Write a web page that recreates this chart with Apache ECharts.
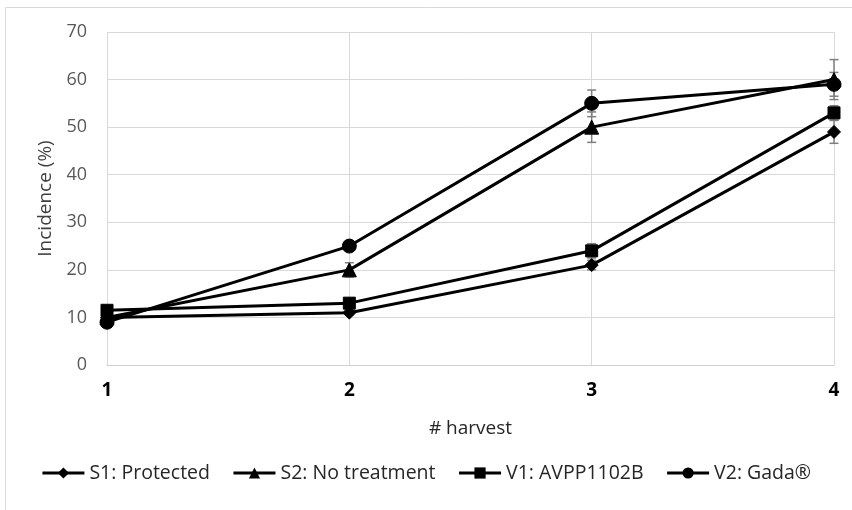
<!DOCTYPE html>
<html>
<head>
<meta charset="utf-8">
<script src="https://cdn.jsdelivr.net/npm/echarts@6/dist/echarts.min.js"></script>
<style>html,body{margin:0;padding:0;background:#fff;}#c{width:852px;height:510px;}</style>
</head>
<body>
<div id="c"></div>
<script>
const categories = ['1', '2', '3', '4'];
const seriesNames = ['S1: Protected', 'S2: No treatment', 'V1: AVPP1102B', 'V2: Gada®'];
const s1Values = [10, 11, 21, 49];
const s2Values = [10, 20, 50, 60];
const v1Values = [11.5, 13, 24, 53];
const v2Values = [9, 25, 55, 59];
const s1Errors = [0.5, 0.5, 1.0, 2.4];
const s2Errors = [0.5, 1.5, 3.2, 4.2];
const v1Errors = [0.5, 0.8, 1.5, 1.5];
const v2Errors = [0.5, 1.0, 2.8, 2.5];
const yTicks = { min: 0, max: 70, interval: 10 };

const values = [s1Values, s2Values, v1Values, v2Values];
const errors = [s1Errors, s2Errors, v1Errors, v2Errors];
const symbols = ['diamond', 'triangle', 'rect', 'circle'];
const symbolSizes = [13, 14, 12, 14];
const FONT = '"Open Sans", sans-serif';

const chart = echarts.init(document.getElementById('c'), null, { renderer: 'canvas' });

const series = [];
values.forEach((vals, i) => {
  series.push({
    type: 'custom',
    name: seriesNames[i] + ' err',
    z: 1,
    silent: true,
    data: vals.map((v, k) => [k, v - errors[i][k], v + errors[i][k]]),
    renderItem: function (params, api) {
      const lo = api.coord([api.value(0), api.value(1)]);
      const hi = api.coord([api.value(0), api.value(2)]);
      const hw = 4.5;
      const st = { stroke: '#7f7f7f', lineWidth: 1.5 };
      return {
        type: 'group',
        children: [
          { type: 'line', shape: { x1: lo[0], y1: lo[1], x2: hi[0], y2: hi[1] }, style: st },
          { type: 'line', shape: { x1: lo[0] - hw, y1: lo[1], x2: lo[0] + hw, y2: lo[1] }, style: st },
          { type: 'line', shape: { x1: hi[0] - hw, y1: hi[1], x2: hi[0] + hw, y2: hi[1] }, style: st }
        ]
      };
    }
  });
});
values.forEach((vals, i) => {
  series.push({
    type: 'line',
    name: seriesNames[i],
    z: 3,
    data: vals,
    symbol: symbols[i],
    symbolSize: symbolSizes[i],
    showAllSymbol: true,
    lineStyle: { color: '#000', width: 3 },
    itemStyle: { color: '#000', borderColor: '#000' },
    emphasis: { disabled: true }
  });
});

chart.setOption({
  animation: false,
  backgroundColor: '#ffffff',
  graphic: [{
    type: 'rect',
    z: -10,
    shape: { x: 5.5, y: 7.5, width: 1000, height: 1000 },
    style: { fill: 'none', stroke: '#d9d9d9', lineWidth: 1 }
  }],
  grid: { left: 107, right: 18, top: 32, bottom: 145 },
  legend: {
    data: seriesNames,
    left: 'center',
    top: 458,
    itemWidth: 42,
    itemHeight: 14,
    itemGap: 22,
    lineStyle: { width: 3, color: '#000' },
    itemStyle: { color: '#000' },
    textStyle: { fontFamily: FONT, fontSize: 19.5, color: '#262626' }
  },
  xAxis: {
    type: 'category',
    data: categories,
    boundaryGap: false,
    axisTick: { show: false },
    axisLine: { lineStyle: { color: '#d0d0d0', width: 1 } },
    splitLine: { show: true, lineStyle: { color: '#d9d9d9', width: 1 } },
    axisLabel: { fontFamily: FONT, fontSize: 19, fontWeight: 'bold', color: '#000', margin: 16 },
    name: '# harvest',
    nameLocation: 'middle',
    nameGap: 54,
    nameTextStyle: { fontFamily: FONT, fontSize: 19, color: '#262626' }
  },
  yAxis: {
    type: 'value',
    min: yTicks.min,
    max: yTicks.max,
    interval: yTicks.interval,
    axisLine: { show: false },
    axisTick: { show: false },
    splitLine: { lineStyle: { color: '#d9d9d9', width: 1 } },
    axisLabel: { fontFamily: FONT, fontSize: 18, color: '#595959', margin: 20 },
    name: 'Incidence (%)',
    nameLocation: 'middle',
    nameRotate: 90,
    nameGap: 52,
    nameTextStyle: { fontFamily: FONT, fontSize: 19, color: '#404040' }
  },
  series: series
});
</script>
</body>
</html>
